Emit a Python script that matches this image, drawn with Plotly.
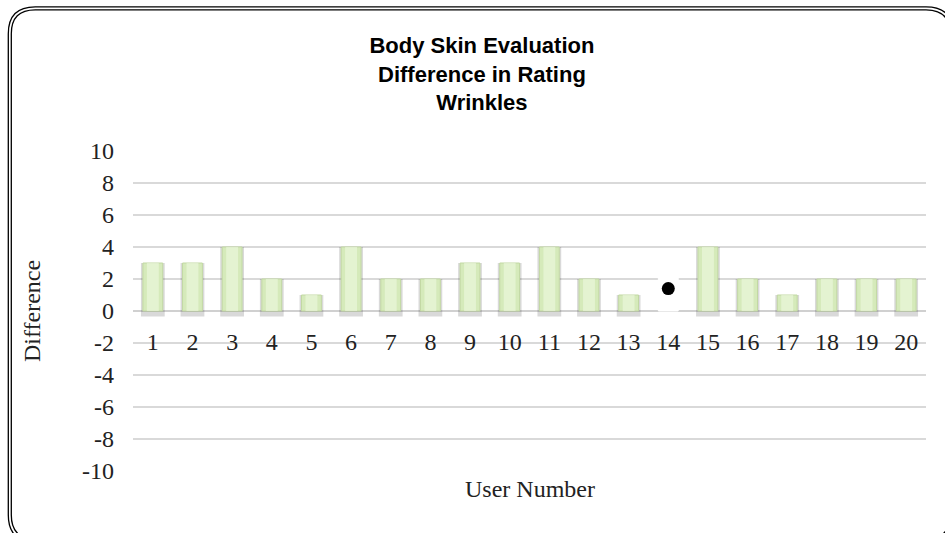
import plotly.graph_objects as go

users = [str(i) for i in range(1, 21)]
difference = [3, 3, 4, 2, 1, 4, 2, 2, 3, 3, 4, 2, 1, 2.2, 4, 2, 1, 2, 2, 2]
blank_users = ["14"]          # bar drawn blank (white)
dot_user = ["14"]
dot_value = [1.4]
y_ticks = [10, 8, 6, 4, 2, 0, -2, -4, -6, -8, -10]
y_tick_text = ["10", "8", "6", "4", "2", "0", "-2", "-4", "-6", "-8", "-10"]

W, H = 945, 533
ML, MR, MT, MB = 133, 19, 151, 62
PW, PH = W - ML - MR, H - MT - MB

def px(x):
    return (x - ML) / PW

def py(y):
    return (H - MB - y) / PH

def rrect(x0, y0, x1, y1, r):
    pts = []
    pts.append(f"M {px(x0 + r)} {py(y0)}")
    pts.append(f"L {px(x1 - r)} {py(y0)}")
    pts.append(f"Q {px(x1)} {py(y0)} {px(x1)} {py(y0 + r)}")
    pts.append(f"L {px(x1)} {py(y1 - r)}")
    pts.append(f"Q {px(x1)} {py(y1)} {px(x1 - r)} {py(y1)}")
    pts.append(f"L {px(x0 + r)} {py(y1)}")
    pts.append(f"Q {px(x0)} {py(y1)} {px(x0)} {py(y1 - r)}")
    pts.append(f"L {px(x0)} {py(y0 + r)}")
    pts.append(f"Q {px(x0)} {py(y0)} {px(x0 + r)} {py(y0)}")
    pts.append("Z")
    return " ".join(pts)

green = "#d5eaba"
bar_colors = ["white" if u in blank_users else green for u in users]
shadow_colors = ["rgba(0,0,0,0)" if u in blank_users else "rgba(0,0,0,0.15)" for u in users]
hi_colors = ["rgba(0,0,0,0)" if u in blank_users else "rgba(238,248,225,0.6)" for u in users]
line_colors = ["white" if u in blank_users else "#c2d8a3" for u in users]

fig = go.Figure()
fig.add_trace(go.Bar(
    x=users, y=[v + 0.35 for v in difference], base=-0.35,
    width=0.6, marker=dict(color=shadow_colors, line=dict(width=0)),
    hoverinfo="skip", showlegend=False))
fig.add_trace(go.Bar(
    x=users, y=difference, width=0.5,
    marker=dict(color=bar_colors, line=dict(color=line_colors, width=1)),
    showlegend=False, name="Difference"))
fig.add_trace(go.Bar(
    x=users, y=difference, width=0.3,
    marker=dict(color=hi_colors, line=dict(width=0)),
    hoverinfo="skip", showlegend=False))
fig.add_trace(go.Scatter(
    x=dot_user, y=dot_value, mode="markers",
    marker=dict(color="black", size=13), showlegend=False))

serif = "Liberation Serif"
tcol = "#222"

fig.update_layout(
    width=W, height=H,
    margin=dict(l=ML, r=MR, t=MT, b=MB),
    paper_bgcolor="white", plot_bgcolor="white",
    barmode="overlay",
    title=dict(
        text="Body Skin Evaluation<br>Difference in Rating<br>Wrinkles",
        font=dict(family="Liberation Sans", size=22, color="black", weight="bold"),
        x=0.51, xanchor="center", xref="container",
        y=1 - 53 / H, yanchor="middle", yref="container"),
    xaxis=dict(
        type="category", anchor="free", position=0.5,
        showgrid=False, showline=False, zeroline=False,
        ticks="", ticklabelstandoff=14,
        tickfont=dict(family=serif, size=24, color=tcol),
        range=[-0.5, 19.5]),
    yaxis=dict(
        range=[-10, 10], tickvals=y_ticks, ticktext=y_tick_text,
        showgrid=True, gridcolor="#d9d9d9", gridwidth=1.5,
        zeroline=True, zerolinecolor="#d0d0d0", zerolinewidth=1.5,
        showline=False, ticks="", ticklabelstandoff=18,
        tickfont=dict(family=serif, size=24, color=tcol),
        title=dict(text="Difference", font=dict(family=serif, size=24, color=tcol),
                   standoff=34)),
    annotations=[dict(
        text="User Number", xref="paper", yref="paper",
        x=0.5, y=py(489), xanchor="center", yanchor="middle",
        showarrow=False, font=dict(family=serif, size=24, color=tcol))],
    shapes=[
        dict(type="path", xref="paper", yref="paper", layer="above",
             path=rrect(8.3, 6.8, 953, 542, 27), line=dict(color="black", width=1.3)),
        dict(type="path", xref="paper", yref="paper", layer="above",
             path=rrect(11.3, 9.8, 950, 539, 24), line=dict(color="black", width=1.3)),
    ],
)

fig.write_html("out.html", config={"displayModeBar": False},
               post_script="document.body.style.margin='0px';")
